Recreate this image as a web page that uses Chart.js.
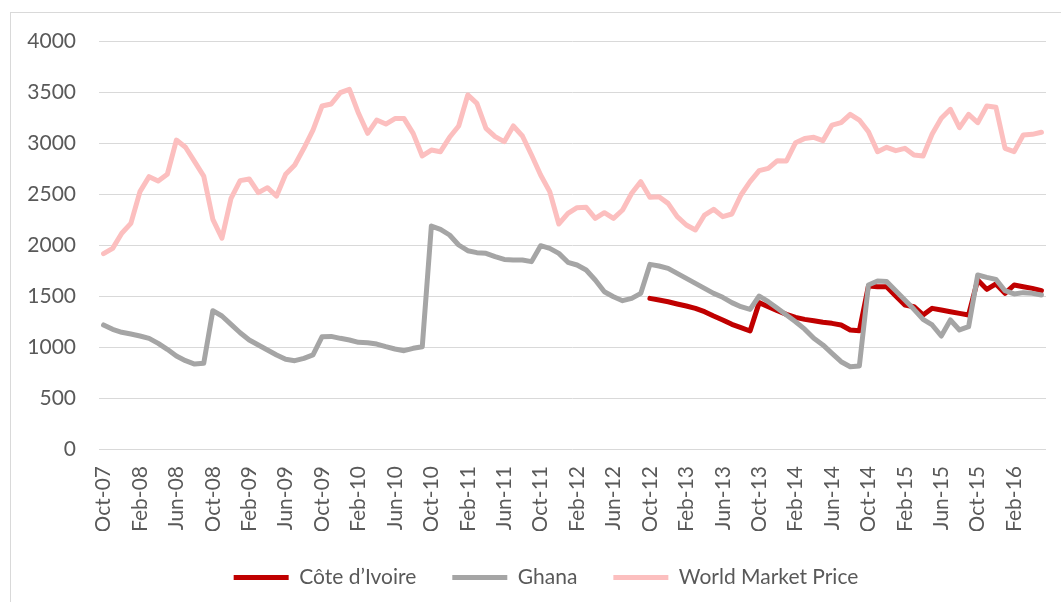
<!DOCTYPE html>
<html>
<head>
<meta charset="utf-8">
<script src="https://cdn.jsdelivr.net/npm/chart.js@4"></script>
<style>
  body { margin: 0; overflow: hidden; background: #fff; }
  .frame { position: absolute; left: 10px; top: 12px; width: 1072px; height: 640px; border: 1px solid #d9d9d9; box-sizing: border-box; }
  #chart { position: absolute; left: 10px; top: 12px; }
</style>
</head>
<body>
<div class="frame"></div>
<canvas id="chart" width="1072" height="640"></canvas>
<script>
// monthly prices, Oct-07 .. May-16
const monthNames = ['Jan','Feb','Mar','Apr','May','Jun','Jul','Aug','Sep','Oct','Nov','Dec'];
const startYear = 2007, startMonth = 9, monthCount = 104;

const coteIvoire = [
    null, null, null, null, null, null, null, null, null, null, null, null,
    null, null, null, null, null, null, null, null, null, null, null, null,
    null, null, null, null, null, null, null, null, null, null, null, null,
    null, null, null, null, null, null, null, null, null, null, null, null,
    null, null, null, null, null, null, null, null, null, null, null, null,
    1477, 1461, 1444, 1422, 1402, 1379, 1346, 1304, 1265, 1222, 1190, 1157,
    1435, 1395, 1356, 1320, 1291, 1271, 1258, 1242, 1232, 1216, 1167, 1160,
    1598, 1591, 1591, 1500, 1412, 1395, 1314, 1379, 1363, 1346, 1330, 1314,
    1657, 1565, 1618, 1526, 1608, 1591, 1575, 1552
];

const ghana = [
    1216, 1173, 1144, 1127, 1108, 1085, 1036, 977, 912, 866, 833, 840,
    1356, 1304, 1222, 1140, 1069, 1020, 971, 922, 879, 866, 889, 922,
    1101, 1104, 1085, 1069, 1046, 1042, 1029, 1003, 980, 964, 987, 1003,
    2186, 2154, 2098, 2000, 1944, 1925, 1918, 1886, 1859, 1853, 1853, 1837,
    1993, 1967, 1918, 1830, 1804, 1755, 1657, 1542, 1493, 1454, 1477, 1526,
    1810, 1794, 1771, 1722, 1673, 1624, 1575, 1526, 1487, 1435, 1395, 1369,
    1500, 1444, 1379, 1314, 1248, 1175, 1085, 1020, 938, 856, 807, 814,
    1608, 1647, 1641, 1552, 1461, 1369, 1271, 1216, 1108, 1265, 1167, 1199,
    1706, 1683, 1663, 1552, 1520, 1533, 1526, 1510
];

const worldPrice = [
    1915, 1967, 2115, 2212, 2523, 2670, 2627, 2693, 3029, 2958, 2817, 2676,
    2252, 2066, 2458, 2631, 2647, 2513, 2562, 2480, 2693, 2784, 2948, 3127,
    3363, 3382, 3493, 3526, 3291, 3095, 3225, 3186, 3239, 3239, 3095, 2873,
    2931, 2915, 3056, 3167, 3471, 3389, 3144, 3062, 3013, 3167, 3069, 2882,
    2686, 2523, 2206, 2310, 2366, 2369, 2261, 2317, 2261, 2343, 2507, 2621,
    2467, 2474, 2408, 2278, 2196, 2147, 2294, 2350, 2278, 2304, 2490, 2621,
    2729, 2752, 2827, 2824, 3003, 3045, 3056, 3023, 3176, 3199, 3281, 3225,
    3111, 2915, 2958, 2925, 2948, 2882, 2873, 3088, 3242, 3330, 3150, 3281,
    3199, 3363, 3350, 2948, 2915, 3078, 3085, 3105
];

const yTicks = { min: 0, max: 4000, step: 500 };
const labelEvery = 4;

document.addEventListener('DOMContentLoaded', () => {
    const labels = [];
    for (let i = 0; i < monthCount; i++) {
        const m = (startMonth + i) % 12;
        const y = startYear + Math.floor((startMonth + i) / 12);
        labels.push(monthNames[m] + '-' + String(y % 100).padStart(2, '0'));
    }

    const textColor = '#595959';
    const font = { family: 'Lato', size: 21 };

    const lineSet = (label, data, color, order) => ({
        label: label,
        data: data,
        borderColor: color,
        backgroundColor: color,
        borderWidth: 5,
        pointRadius: 0,
        tension: 0,
        spanGaps: false,
        borderJoinStyle: 'round',
        borderCapStyle: 'round',
        order: order
    });

    // nudge the legend so it sits centred under the whole frame like the original
    const legendShift = {
        id: 'legendShift',
        afterLayout: (chart) => {
            chart.legend.left += 13;
            chart.legend.right += 13;
        }
    };

    new Chart(document.getElementById('chart').getContext('2d'), {
        type: 'line',
        data: {
            labels: labels,
            datasets: [
                lineSet('Côte d’Ivoire', coteIvoire, '#c00000', 1),
                lineSet('Ghana', ghana, '#a5a5a5', 0),
                lineSet('World Market Price', worldPrice, '#fcbfbf', 2)
            ]
        },
        plugins: [legendShift],
        options: {
            responsive: false,
            animation: false,
            devicePixelRatio: 1,
            layout: { padding: { left: 10, right: 36, top: 29, bottom: 54 } },
            plugins: {
                tooltip: { enabled: false },
                legend: {
                    position: 'bottom',
                    labels: {
                        usePointStyle: true,
                        pointStyle: 'line',
                        pointStyleWidth: 55,
                        padding: 36,
                        color: textColor,
                        font: font,
                        sort: (a, b) => a.datasetIndex - b.datasetIndex
                    }
                }
            },
            scales: {
                x: {
                    offset: true,
                    grid: { display: false, drawTicks: false },
                    border: { display: false },
                    afterFit: (s) => { s.height = 82; },
                    ticks: {
                        autoSkip: false,
                        minRotation: 90,
                        maxRotation: 90,
                        padding: 17,
                        color: textColor,
                        font: font,
                        callback: (val, i) => (i % labelEvery === 0 ? labels[i] : null)
                    }
                },
                y: {
                    min: yTicks.min,
                    max: yTicks.max,
                    grid: { color: '#d9d9d9', lineWidth: 1, drawTicks: false },
                    border: { display: false },
                    afterFit: (s) => {
                        s.width = 79;
                        s.paddingTop = 0;
                        s.paddingBottom = 0;
                    },
                    ticks: {
                        stepSize: yTicks.step,
                        padding: 23,
                        color: textColor,
                        font: font,
                        callback: (val) => String(val)
                    }
                }
            }
        }
    });
});
</script>
</body>
</html>
